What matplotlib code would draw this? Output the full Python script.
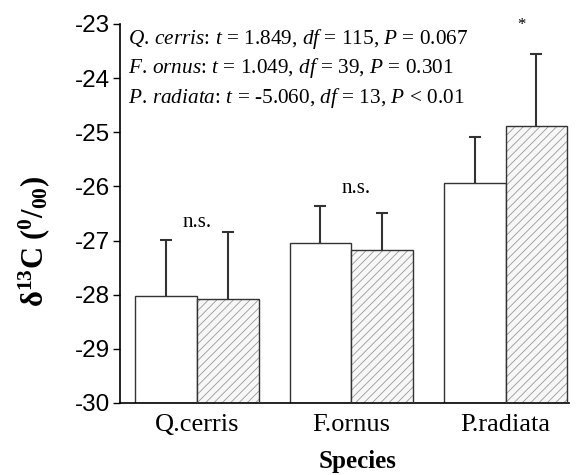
import numpy as np
import matplotlib
matplotlib.use("Agg")
import matplotlib.pyplot as plt

plt.rcParams['mathtext.fontset'] = 'custom'
plt.rcParams['mathtext.rm'] = 'Liberation Serif'
plt.rcParams['mathtext.it'] = 'Liberation Serif:italic'
plt.rcParams['mathtext.bf'] = 'Liberation Serif:bold'
plt.rcParams['hatch.linewidth'] = 0.6
plt.rcParams['axes.unicode_minus'] = False

# data
species = ["Q.cerris", "F.ornus", "P.radiata"]
mean_open = [-28.02, -27.05, -25.94]
se_open = [1.03, 0.69, 0.85]
mean_hatch = [-28.08, -27.17, -24.88]
se_hatch = [1.24, 0.68, 1.33]
sig_labels = ["n.s.", "n.s.", "*"]
sig_y = [-26.66, -26.03, -23.02]
stats = [r"$\mathit{Q.\,cerris}$: $\mathit{t}$ = 1.849, $\mathit{df}$ = 115, $\mathit{P}$ = 0.067",
         r"$\mathit{F.\,ornus}$: $\mathit{t}$ = 1.049, $\mathit{df}$ = 39, $\mathit{P}$ = 0.301",
         r"$\mathit{P.\,radiata}$: $\mathit{t}$ = -5.060, $\mathit{df}$ = 13, $\mathit{P}$ < 0.01"]

base = -30

fig = plt.figure(figsize=(5.81, 4.75), dpi=100)
ax = fig.add_axes([0.2065, 0.1516, 0.7725, 0.7979])

x = np.arange(len(species))
w = 0.4
h_open = np.array(mean_open) - base
h_hatch = np.array(mean_hatch) - base

ax.bar(x - w/2, h_open, w, bottom=base, color='white', edgecolor='#333333', linewidth=1.0, zorder=2)
ax.bar(x + w/2, h_hatch, w, bottom=base, color='#f7f7f7', edgecolor='#999999', hatch='////', linewidth=0, zorder=2)
ax.bar(x + w/2, h_hatch, w, bottom=base, color='none', edgecolor='#333333', linewidth=1.0, zorder=3)

# upper error bars only
for xs, m, s in [(x - w/2, mean_open, se_open), (x + w/2, mean_hatch, se_hatch)]:
    top = np.array(m) + np.array(s)
    ax.vlines(xs, m, top, color='#333333', linewidth=1.5, zorder=1)
    ax.plot(xs, top, linestyle='none', marker='_', markersize=9, markeredgewidth=1.5,
            color='#333333', zorder=1)

sig_x = [0.0, 1.03, 2.1]
for xi, yi, s in zip(sig_x, sig_y, sig_labels):
    ax.text(xi, yi, s, ha='center', va='center', family='Liberation Serif',
            fontsize=15 if s != '*' else 12)

for i, line in enumerate(stats):
    ax.text(0.018, 0.96 - i * 0.077, line, transform=ax.transAxes, ha='left', va='center',
            family='Liberation Serif', fontsize=15.3)

ax.set_xlim(-0.5, 2.41)
ax.set_ylim(-30, -23)
ax.set_yticks(np.arange(-30, -22, 1))
ax.set_xticks(x)
ax.set_xticklabels(species, family='Liberation Serif', fontsize=19)
for lab in ax.get_yticklabels():
    lab.set_family('Liberation Sans')
    lab.set_fontsize(17.5)
ax.tick_params(axis='x', length=0, pad=8)
ax.tick_params(axis='y', length=5, width=1, direction='out', pad=2)
for side in ['top', 'right']:
    ax.spines[side].set_visible(False)
ax.spines['left'].set_linewidth(1.2)
ax.spines['bottom'].set_linewidth(1.2)

ax.set_xlabel('Species', family='Liberation Serif', fontweight='bold', fontsize=18)
ax.xaxis.set_label_coords(0.53, -0.125)
ax.set_ylabel(r'$\mathbf{\delta^{13}C\ (^{0}/_{00})}$', fontsize=22)
ax.yaxis.set_label_coords(-0.152, 0.427)

fig.savefig('out.png', dpi=100)
